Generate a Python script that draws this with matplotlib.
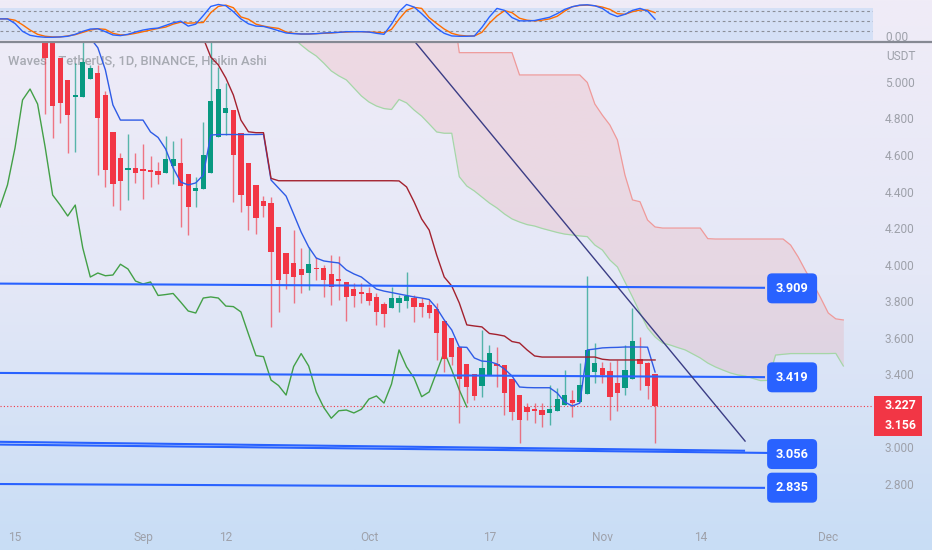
import numpy as np
import pandas as pd
import matplotlib
matplotlib.use("Agg")
import matplotlib.pyplot as plt
from matplotlib.patches import FancyBboxPatch, Rectangle
from matplotlib.lines import Line2D
from matplotlib.transforms import IdentityTransform

plt.rcParams['font.family'] = ['Roboto', 'DejaVu Sans']

# ---------------- data ----------------
ORIGIN = pd.Timestamp('2022-08-15')

candle_dates = pd.date_range('2022-08-19', periods=82, freq='D')
ha_open = [5.32, 5.28, 5.129, 5.010, 4.916, 4.919, 5.016, 5.047, 4.928, 4.724,
           4.586, 4.518, 4.527, 4.518, 4.518, 4.512, 4.503, 4.540, 4.557, 4.496,
           4.405, 4.412, 4.503, 4.697, 4.828, 4.846, 4.722, 4.555, 4.436, 4.350,
           4.339, 4.204, 4.062, 4.011, 3.974, 3.956, 3.980, 3.980, 3.949, 3.916,
           3.906, 3.866, 3.848, 3.843, 3.824, 3.784, 3.761, 3.788, 3.801, 3.816,
           3.792, 3.779, 3.755, 3.693, 3.597, 3.547, 3.456, 3.400, 3.337, 3.396,
           3.456, 3.450, 3.372, 3.286, 3.222, 3.204, 3.204, 3.189, 3.199, 3.232,
           3.259, 3.246, 3.292, 3.414, 3.436, 3.418, 3.350, 3.323, 3.372, 3.482,
           3.463, 3.401]
ha_high = [5.32, 5.30, 5.129, 5.010, 5.102, 5.250, 5.090, 5.092, 4.950, 4.724,
           4.609, 4.715, 4.609, 4.660, 4.594, 4.563, 4.704, 4.677, 4.692, 4.496,
           4.481, 4.782, 5.250, 5.080, 4.992, 4.846, 4.722, 4.555, 4.436, 4.375,
           4.372, 4.204, 4.062, 4.189, 4.089, 4.098, 4.043, 4.000, 4.052, 4.047,
           3.906, 3.898, 3.898, 3.879, 3.843, 3.797, 3.879, 3.834, 3.961, 3.834,
           3.816, 3.806, 3.788, 3.693, 3.600, 3.547, 3.456, 3.400, 3.642, 3.560,
           3.547, 3.450, 3.372, 3.286, 3.241, 3.244, 3.244, 3.341, 3.323, 3.423,
           3.314, 3.460, 3.939, 3.569, 3.469, 3.469, 3.478, 3.560, 3.761, 3.605,
           3.469, 3.401]
ha_low = [4.824, 4.691, 4.773, 4.609, 4.618, 4.919, 5.016, 4.490, 4.426, 4.322,
          4.299, 4.354, 4.445, 4.357, 4.423, 4.441, 4.503, 4.441, 4.207, 4.162,
          4.317, 4.412, 4.503, 4.697, 4.710, 4.345, 4.290, 4.189, 4.169, 4.262,
          3.660, 3.742, 3.865, 3.792, 3.843, 3.861, 3.916, 3.820, 3.779, 3.806,
          3.693, 3.770, 3.788, 3.779, 3.669, 3.660, 3.761, 3.742, 3.761, 3.687,
          3.715, 3.706, 3.478, 3.414, 3.450, 3.131, 3.241, 3.259, 3.277, 3.396,
          3.332, 3.177, 3.149, 3.022, 3.149, 3.131, 3.113, 3.122, 3.199, 3.232,
          3.167, 3.246, 3.292, 3.350, 3.350, 3.149, 3.200, 3.286, 3.372, 3.314,
          3.263, 3.022]
ha_close = [5.129, 4.868, 4.883, 4.819, 4.928, 5.111, 5.074, 4.804, 4.518, 4.440,
            4.458, 4.530, 4.503, 4.512, 4.509, 4.490, 4.578, 4.576, 4.430, 4.317,
            4.418, 4.600, 4.895, 4.960, 4.859, 4.600, 4.381, 4.321, 4.257, 4.322,
            4.071, 3.918, 3.950, 3.934, 3.943, 4.002, 3.974, 3.916, 3.876, 3.910,
            3.824, 3.830, 3.839, 3.802, 3.742, 3.730, 3.816, 3.816, 3.828, 3.770,
            3.766, 3.737, 3.627, 3.482, 3.496, 3.372, 3.332, 3.282, 3.436, 3.514,
            3.445, 3.296, 3.195, 3.149, 3.195, 3.199, 3.177, 3.208, 3.263, 3.286,
            3.241, 3.341, 3.533, 3.460, 3.396, 3.277, 3.296, 3.423, 3.582, 3.454,
            3.336, 3.225]

# Ichimoku conversion line (blue), from 2022-08-25
tenkan_dates = pd.date_range('2022-08-25', periods=76, freq='D')
tenkan = [5.24, 5.187, 5.066, 4.874, 4.791, 4.791, 4.791, 4.791, 4.726, 4.696,
          4.633, 4.529, 4.452, 4.436, 4.447, 4.490, 4.709, 4.712, 4.712, 4.712,
          4.712, 4.712, 4.712, 4.713, 4.463, 4.419, 4.375, 4.277, 4.178, 4.096,
          4.036, 4.020, 4.014, 4.009, 3.971, 3.949, 3.932, 3.899, 3.866, 3.855,
          3.847, 3.839, 3.831, 3.823, 3.817, 3.809, 3.762, 3.697, 3.642, 3.549,
          3.547, 3.489, 3.472, 3.469, 3.456, 3.429, 3.390, 3.330, 3.327, 3.326,
          3.326, 3.326, 3.297, 3.248, 3.226, 3.242, 3.533, 3.538, 3.544, 3.546,
          3.547, 3.549, 3.549, 3.549, 3.548, 3.412]

# Ichimoku base line (dark red), from 2022-09-09
kijun_dates = pd.date_range('2022-09-09', periods=61, freq='D')
kijun = [5.24, 5.136, 5.093, 5.021, 4.928, 4.791, 4.727, 4.722, 4.722, 4.472,
         4.459, 4.459, 4.459, 4.459, 4.459, 4.459, 4.459, 4.459, 4.459, 4.459,
         4.459, 4.459, 4.459, 4.459, 4.459, 4.459, 4.458, 4.425, 4.343, 4.250,
         4.189, 4.052, 3.932, 3.883, 3.790, 3.670, 3.664, 3.659, 3.623, 3.617,
         3.609, 3.579, 3.571, 3.533, 3.500, 3.494, 3.494, 3.494, 3.494, 3.494,
         3.494, 3.494, 3.494, 3.482, 3.478, 3.478, 3.478, 3.478, 3.478, 3.478,
         3.478]

# Lagging span (green), from 2022-08-13
chikou_dates = pd.date_range('2022-08-13', periods=63, freq='D')
chikou = [4.315, 4.436, 4.638, 4.901, 4.961, 4.879, 4.644, 4.381, 4.326, 4.266,
          4.326, 4.091, 3.932, 3.954, 3.939, 3.943, 4.002, 3.976, 3.910, 3.894,
          3.905, 3.831, 3.836, 3.842, 3.795, 3.746, 3.735, 3.817, 3.823, 3.817,
          3.773, 3.770, 3.741, 3.620, 3.502, 3.496, 3.368, 3.338, 3.286, 3.442,
          3.513, 3.445, 3.303, 3.218, 3.159, 3.200, 3.204, 3.188, 3.208, 3.264,
          3.281, 3.242, 3.346, 3.533, 3.440, 3.379, 3.277, 3.303, 3.412, 3.522,
          3.423, 3.314, 3.221]

# Cloud (leading spans), from 2022-09-21
span_dates = pd.date_range('2022-09-21', periods=74, freq='D')
span_a = [5.24, 5.202, 5.169, 5.142, 5.103, 5.060, 5.033, 5.011, 4.967, 4.923,
          4.890, 4.868, 4.854, 4.849, 4.904, 4.885, 4.846, 4.813, 4.770, 4.726,
          4.719, 4.719, 4.481, 4.430, 4.403, 4.370, 4.337, 4.310, 4.277, 4.250,
          4.233, 4.219, 4.211, 4.198, 4.187, 4.176, 4.167, 4.162, 4.157, 4.153,
          4.107, 4.080, 4.025, 3.987, 3.905, 3.823, 3.736, 3.653, 3.604, 3.571,
          3.560, 3.546, 3.533, 3.511, 3.489, 3.461, 3.440, 3.423, 3.407, 3.396,
          3.390, 3.377, 3.365, 3.366, 3.505, 3.509, 3.513, 3.513, 3.513, 3.513,
          3.513, 3.513, 3.514, 3.445]
span_b = [5.45, 5.45, 5.45, 5.45, 5.45, 5.45, 5.45, 5.45, 5.45, 5.45,
          5.45, 5.45, 5.45, 5.45, 5.45, 5.45, 5.45, 5.45, 5.45, 5.45,
          5.45, 5.45, 5.160, 5.160, 5.160, 5.160, 5.160, 5.160, 5.160, 5.160,
          5.038, 5.038, 5.038, 5.038, 5.038, 5.038, 5.038, 5.038, 5.038, 4.997,
          4.879, 4.818, 4.764, 4.682, 4.490, 4.354, 4.344, 4.244, 4.206, 4.200,
          4.200, 4.200, 4.200, 4.200, 4.200, 4.142, 4.140, 4.140, 4.140, 4.140,
          4.140, 4.140, 4.140, 4.140, 4.140, 4.140, 4.107, 4.042, 3.965, 3.894,
          3.817, 3.735, 3.703, 3.697]

# Stochastic RSI (top pane), from 2022-08-13
stoch_dates = pd.date_range('2022-08-13', periods=88, freq='D')
stoch_k = [56, 56, 42, 18, 6, 2, 0, 0, 1, 3, 9, 18,
           25, 26, 17, 7, 5, 9, 16, 22, 26, 28,
           36, 44, 49, 34, 40, 66, 94, 100, 96, 78,
           56, 41, 34, 33, 27, 20, 13, 11, 10, 10,
           11, 13, 14, 15, 17, 17, 17, 16, 12, 9,
           40, 78, 100, 92, 72, 50, 28, 12, 4, 3,
           3, 4, 30, 62, 88, 82, 60, 50, 50, 51,
           56, 61, 72, 85, 93, 98, 99, 96, 88, 72,
           63, 70, 82, 88, 80, 55]
stoch_d = [56, 56, 52, 38, 22, 9, 3, 1, 1, 4, 8, 15,
           22, 26, 24, 12, 7, 8, 12, 17, 22, 27,
           31, 40, 46, 43, 44, 45, 75, 94, 98, 90,
           62, 55, 40, 34, 30, 27, 16, 12, 10, 10,
           11, 12, 13, 15, 16, 17, 17, 16, 15, 14,
           24, 55, 82, 91, 88, 60, 42, 25, 12, 6,
           4, 4, 15, 43, 65, 81, 75, 58, 52, 50,
           52, 56, 64, 80, 93, 97, 98, 96, 92, 85,
           72, 70, 78, 83, 83, 75]
stoch_levels = [80, 50, 20]

# Drawn lines (days since 2022-08-15, price)
level_x0 = [-2.0, -2.0, -2.0, -2.0, -2.0]
level_y0 = [3.896, 3.407, 3.030, 3.015, 2.799]
level_x1 = [99.6, 99.6, 96.95, 100.3, 99.6]
level_y1 = [3.873, 3.384, 2.981, 2.969, 2.778]
label_y = [3.870, 3.383, 2.963, 2.779]
label_text = ['3.909', '3.419', '3.056', '2.835']
trend_x = [52.8, 96.95]
trend_y = [5.235, 3.034]

last_price = 3.227
last_labels = ['3.227', '3.156']

# 3.200 is hidden behind the last-price box in the reference
yticks = [2.8, 3.0, 3.4, 3.6, 3.8, 4.0, 4.2, 4.4, 4.6, 4.8, 5.0]
xtick_dates = ['2022-08-15', '2022-09-01', '2022-09-12', '2022-10-01',
               '2022-10-17', '2022-11-01', '2022-11-14', '2022-12-01']
xtick_labels = ['15', 'Sep', '12', 'Oct', '17', 'Nov', '14', 'Dec']


def days(idx):
    return np.asarray((pd.DatetimeIndex(idx) - ORIGIN).days, dtype=float)


# ---------------- figure ----------------
W, H = 932, 550
fig = plt.figure(figsize=(W / 100, H / 100), dpi=100)


def rect(x0, top, x1, bottom):
    return [x0 / W, 1 - bottom / H, (x1 - x0) / W, (bottom - top) / H]


# background gradient
bg = fig.add_axes([0, 0, 1, 1], zorder=-10)
ys = np.linspace(0, 1, 300)[:, None]
c_top = np.array([240, 236, 247]) / 255
c_mid = np.array([229, 232, 247]) / 255
c_bot = np.array([200, 221, 245]) / 255
grad = np.where(ys < 0.5, c_top + (c_mid - c_top) * (ys / 0.5),
                c_mid + (c_bot - c_mid) * ((ys - 0.5) / 0.5))
grad = np.repeat(grad[:, None, :], 2, axis=1).reshape(300, 2, 3)
bg.imshow(grad, aspect='auto', extent=[0, 1, 0, 1], origin='upper')
bg.set_axis_off()

ax = fig.add_axes(rect(0, 42, 873, 518))
axt = fig.add_axes(rect(0, 0, 873, 41))
for a in (ax, axt):
    a.set_facecolor('none')
    for s in a.spines.values():
        s.set_visible(False)

XL = (-1.992, 113.94)
ax.set_xlim(*XL)
ax.set_ylim(2.613, 5.2184)
axt.set_xlim(*XL)
axt.set_ylim(-11.4, 113.6)

RED = '#F23645'
GREEN = '#089981'
BLUE = '#2962FF'

# cloud
xs = days(span_dates)
ax.fill_between(xs, span_a, span_b, color='#F44336', alpha=0.10, lw=0, zorder=1)
ax.plot(xs, span_a, color='#A5D6A7', lw=0.9, zorder=1.2)
ax.plot(xs, span_b, color='#EF9A9A', lw=0.9, zorder=1.2)

# lagging span
ax.plot(days(chikou_dates), chikou, color='#43A047', lw=1.0, zorder=2)

# title (behind candles)
ax.text(8 / 873, (518 - 61) / 476, 'Waves / TetherUS, 1D, BINANCE, Heikin Ashi',
        transform=ax.transAxes, fontsize=9.4, color='#a7aab2', va='center',
        ha='left', zorder=0.5, fontweight='medium')

# Heikin Ashi candles
xc = days(candle_dates)
o = np.array(ha_open); h = np.array(ha_high); l = np.array(ha_low); c = np.array(ha_close)
up = c >= o
cols = np.where(up, GREEN, RED)
ax.vlines(xc, l, h, colors=cols, lw=1.0, alpha=0.65, zorder=3)
bottom = np.minimum(o, c)
height = np.maximum(np.abs(c - o), 0.009)
ax.bar(xc, height, bottom=bottom, width=0.7, color=cols, lw=0, zorder=3.1)

# conversion / base lines
ax.plot(days(tenkan_dates), tenkan, color='#2E5BE6', lw=1.0, zorder=4)
ax.plot(days(kijun_dates), kijun, color='#A3212E', lw=1.0, zorder=4)

# drawn horizontal levels and trend line
for x0, y0, x1, y1 in zip(level_x0, level_y0, level_x1, level_y1):
    ax.plot([x0, x1], [y0, y1], color=BLUE, lw=1.5, zorder=5, solid_capstyle='butt')
ax.plot(trend_x, trend_y, color='#3B3D85', lw=1.0, zorder=5)

# last price dotted line
ax.axhline(last_price, color=RED, lw=0.8, ls=(0, (1, 2)), zorder=2.5)

# axes ticks
ax.yaxis.tick_right()
ax.set_yticks(yticks)
ax.set_yticklabels([f'{v:.3f}' for v in yticks])
ax.tick_params(axis='y', length=0, pad=8.6, labelsize=8.6, labelcolor='#9EA1AA')
ax.set_xticks(days(pd.to_datetime(xtick_dates)))
ax.set_xticklabels(xtick_labels)
ax.tick_params(axis='x', length=0, pad=9.5, labelsize=8.6, labelcolor='#9EA1AA')

fig.text(886, H - 57, 'USDT', transform=IdentityTransform(), fontsize=8.6,
         color='#9EA1AA', va='center', ha='left')

# top pane: stochastic RSI
axt.axhspan(-8.4, 89.2, color='#2196F3', alpha=0.12, lw=0)
for lv in stoch_levels:
    axt.axhline(lv, color='#8C8F99', lw=0.8, ls=(0, (2.5, 2.5)))
sx = days(stoch_dates)
axt.plot(sx, stoch_k, color=BLUE, lw=1.0, zorder=3)
axt.plot(sx, stoch_d, color='#FF6D00', lw=1.0, zorder=2.9)
axt.set_xticks([]); axt.set_yticks([])
fig.text(885, H - 37.5, '0.00', transform=IdentityTransform(), fontsize=8.6,
         color='#9EA1AA', va='center', ha='left')

# separator
fig.add_artist(Line2D([0, W], [H - 41.5, H - 41.5], transform=IdentityTransform(),
                      color='#868993', lw=1.6, zorder=8))

# level label boxes
fig.canvas.draw()
for yv, txt in zip(label_y, label_text):
    px, py = ax.transData.transform((103.2, yv))
    box = FancyBboxPatch((px - 25, py - 15), 50, 30,
                         boxstyle='round,pad=0,rounding_size=5',
                         transform=IdentityTransform(), fc=BLUE, ec='none', zorder=9)
    fig.add_artist(box)
    fig.text(px, py, txt, transform=IdentityTransform(), color='white',
             fontsize=9.2, fontweight='bold', ha='center', va='center', zorder=10)

# last price box
px, py = ax.transData.transform((0, last_price))
fig.add_artist(Rectangle((874, py - 30.5), 48, 40, transform=IdentityTransform(),
                         fc=RED, ec='none', zorder=9))
fig.text(916, py, last_labels[0], transform=IdentityTransform(), color='white',
         fontsize=8.8, fontweight='bold', ha='right', va='center', zorder=10)
fig.text(916, py - 20, last_labels[1], transform=IdentityTransform(), color='white',
         fontsize=8.8, fontweight='bold', ha='right', va='center', zorder=10)

fig.savefig('out.png', dpi=100)
